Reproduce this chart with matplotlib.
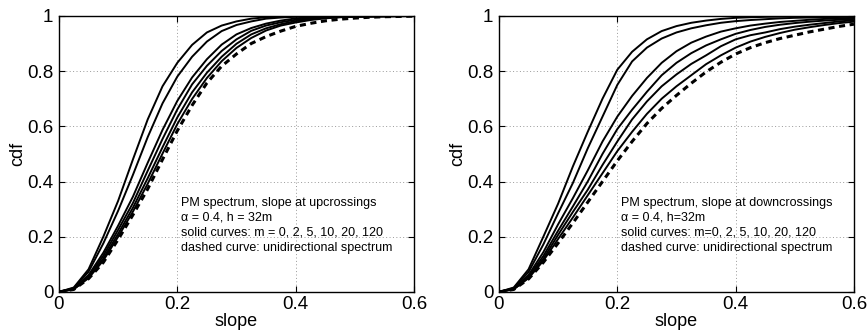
import numpy as np
import matplotlib
matplotlib.use("Agg")
from matplotlib import pyplot as plt
from matplotlib.ticker import FuncFormatter

plt.rcParams['font.family'] = ['Liberation Sans', 'DejaVu Sans']

# slope grid shared by all curves
slope = np.arange(25) * 0.025

# left panel: slope at upcrossings, m = 0, 2, 5, 10, 20, 120
up_m0 = [0, 0.016, 0.082, 0.2, 0.33, 0.48, 0.625, 0.745, 0.83, 0.895, 0.94, 0.965,
         0.98, 0.99, 0.995, 0.997, 0.998, 0.999, 1, 1, 1, 1, 1, 1, 1]
up_m2 = [0, 0.014, 0.073, 0.176, 0.294, 0.424, 0.561, 0.683, 0.78, 0.852, 0.907, 0.945,
         0.967, 0.98, 0.99, 0.994, 0.997, 0.998, 0.999, 1, 1, 1, 1, 1, 1]
up_m5 = [0, 0.012, 0.061, 0.142, 0.24, 0.345, 0.468, 0.587, 0.692, 0.777, 0.843, 0.896,
         0.933, 0.956, 0.972, 0.983, 0.991, 0.995, 0.9965, 0.9975, 0.998, 0.999, 0.999, 1, 1]
up_m10 = [0, 0.011, 0.057, 0.131, 0.225, 0.322, 0.439, 0.554, 0.661, 0.752, 0.819, 0.873,
          0.915, 0.946, 0.965, 0.977, 0.986, 0.992, 0.9955, 0.997, 0.9978, 0.9985, 0.999, 0.9995, 1]
up_m20 = [0, 0.01, 0.053, 0.121, 0.211, 0.305, 0.412, 0.524, 0.632, 0.723, 0.794, 0.852,
          0.899, 0.933, 0.955, 0.97, 0.981, 0.989, 0.993, 0.9958, 0.997, 0.9978, 0.9985, 0.999, 0.9995]
up_m120 = [0, 0.01, 0.05, 0.114, 0.2, 0.291, 0.392, 0.501, 0.608, 0.699, 0.775, 0.836,
           0.884, 0.92, 0.947, 0.965, 0.976, 0.985, 0.991, 0.995, 0.9965, 0.9973, 0.998, 0.9988, 0.9993]
up_uni = [0, 0.009, 0.048, 0.107, 0.19, 0.279, 0.373, 0.48, 0.584, 0.676, 0.757, 0.818,
          0.862, 0.9, 0.925, 0.945, 0.962, 0.973, 0.982, 0.988, 0.992, 0.995, 0.997, 0.998, 0.999]

# right panel: slope at downcrossings
dn_m0 = [0, 0.016, 0.082, 0.2, 0.32, 0.455, 0.58, 0.7, 0.805, 0.87, 0.915, 0.945,
         0.963, 0.975, 0.983, 0.989, 0.993, 0.995, 0.9965, 0.9975, 0.998, 0.9985, 0.999, 0.999, 0.9993]
dn_m2 = [0, 0.014, 0.072, 0.172, 0.285, 0.395, 0.52, 0.635, 0.75, 0.835, 0.885, 0.918,
         0.94, 0.955, 0.966, 0.975, 0.981, 0.985, 0.988, 0.991, 0.993, 0.994, 0.995, 0.996, 0.997]
dn_m5 = [0, 0.012, 0.061, 0.144, 0.245, 0.34, 0.44, 0.545, 0.635, 0.71, 0.775, 0.83,
         0.872, 0.903, 0.925, 0.943, 0.955, 0.965, 0.972, 0.978, 0.982, 0.986, 0.989, 0.991, 0.993]
dn_m10 = [0, 0.011, 0.056, 0.13, 0.222, 0.31, 0.4, 0.5, 0.59, 0.66, 0.725, 0.785,
          0.83, 0.865, 0.893, 0.915, 0.935, 0.949, 0.96, 0.968, 0.974, 0.979, 0.983, 0.986, 0.989]
dn_m20 = [0, 0.01, 0.052, 0.12, 0.207, 0.29, 0.37, 0.46, 0.545, 0.625, 0.69, 0.745,
          0.788, 0.826, 0.857, 0.89, 0.915, 0.93, 0.94, 0.952, 0.961, 0.968, 0.974, 0.98, 0.984]
dn_m120 = [0, 0.01, 0.05, 0.113, 0.192, 0.27, 0.35, 0.43, 0.51, 0.58, 0.645, 0.7,
           0.745, 0.785, 0.825, 0.857, 0.885, 0.907, 0.924, 0.938, 0.95, 0.959, 0.967, 0.974, 0.979]
dn_uni = [0, 0.009, 0.047, 0.107, 0.177, 0.25, 0.325, 0.4, 0.475, 0.545, 0.61, 0.665,
          0.712, 0.756, 0.797, 0.832, 0.862, 0.885, 0.903, 0.918, 0.93, 0.942, 0.952, 0.962, 0.97]

up_solid = [up_m0, up_m2, up_m5, up_m10, up_m20, up_m120]
dn_solid = [dn_m0, dn_m2, dn_m5, dn_m10, dn_m20, dn_m120]

up_text = ["PM spectrum, slope at upcrossings",
           "\u03b1 = 0.4, h = 32m",
           "solid curves: m = 0, 2, 5, 10, 20, 120",
           "dashed curve: unidirectional spectrum"]
dn_text = ["PM spectrum, slope at downcrossings",
           "\u03b1 = 0.4, h=32m",
           "solid curves: m=0, 2, 5, 10, 20, 120",
           "dashed curve: unidirectional spectrum"]

fig = plt.figure(figsize=(8.67, 3.31), dpi=100)
ax1 = fig.add_axes([0.068, 0.118, 0.4095, 0.834])
ax2 = fig.add_axes([0.5755, 0.118, 0.4095, 0.834])


def fmt(v, pos):
    return '%g' % round(v, 2)


def draw_panel(ax, solid, dashed, lines):
    for cdf in solid:
        ax.plot(slope, cdf, color='black', lw=1.4)
    ax.plot(slope, dashed, color='black', lw=2.2, ls=(0, (2.0, 1.5)))
    ax.set_xlim(0, 0.6)
    ax.set_ylim(0, 1)
    ax.set_xticks([0, 0.2, 0.4, 0.6])
    ax.set_yticks([0, 0.2, 0.4, 0.6, 0.8, 1])
    ax.xaxis.set_major_formatter(FuncFormatter(fmt))
    ax.yaxis.set_major_formatter(FuncFormatter(fmt))
    ax.grid(True, color='#999999', ls=(0, (1, 2.5)), lw=0.7)
    ax.tick_params(direction='in', length=4, width=0.8, labelsize=13.5,
                   top=True, right=True)
    ax.tick_params(axis='x', pad=3)
    ax.tick_params(axis='y', pad=4)
    for sp in ax.spines.values():
        sp.set_linewidth(1.0)
    ax.set_xlabel('slope', fontsize=13, labelpad=0)
    ax.set_ylabel('cdf', fontsize=13, labelpad=1)
    ys = [0.322, 0.268, 0.214, 0.159]
    for t, y in zip(lines, ys):
        ax.text(0.207, y, t, fontsize=9, va='center', ha='left')


draw_panel(ax1, up_solid, up_uni, up_text)
draw_panel(ax2, dn_solid, dn_uni, dn_text)

fig.savefig('out.png', dpi=100)
